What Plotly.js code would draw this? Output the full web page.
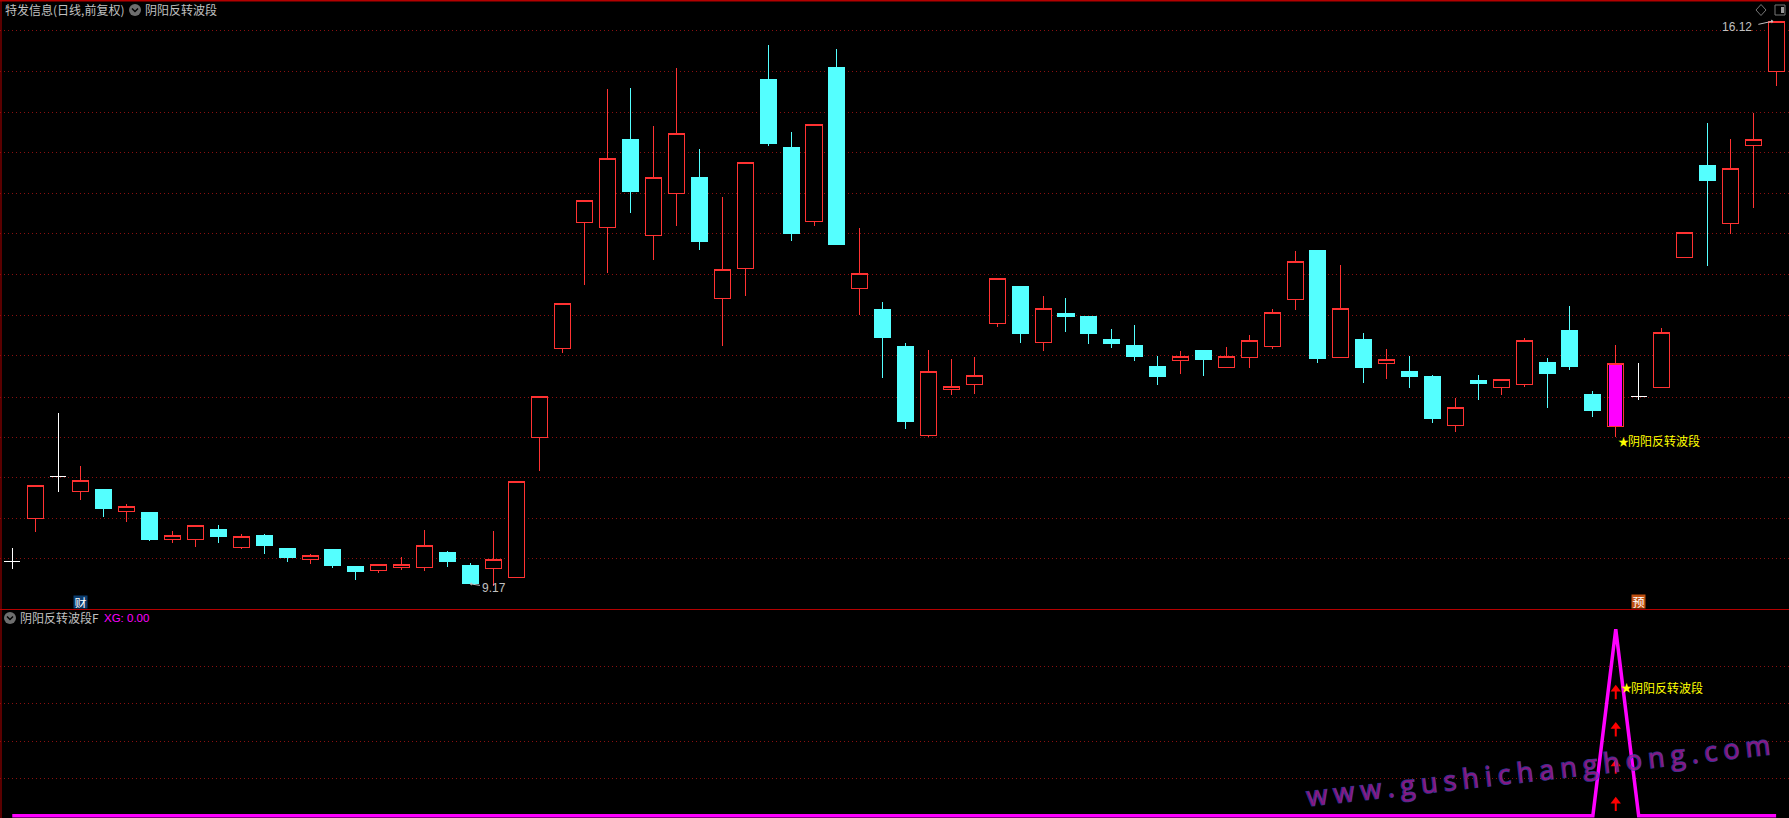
<!DOCTYPE html>
<html><head><meta charset="utf-8">
<script src="https://cdn.plot.ly/plotly-3.0.1.min.js"></script>
<style>html,body{margin:0;padding:0;background:#000;overflow:hidden}#c{width:1789px;height:818px}
.boxlayer path{shape-rendering:crispEdges}.barlayer path{shape-rendering:crispEdges}</style>
</head><body><div id="c"></div>
<script>
// Daily prices, one entry per trading day
const opens=[9.43,9.97,10.49,10.30,10.33,10.06,10.04,9.71,9.71,9.83,9.61,9.76,9.60,9.46,9.59,9.37,9.33,9.36,9.36,9.55,9.39,9.35,9.24,10.97,12.07,13.63,13.57,14.65,13.47,13.99,14.19,12.69,13.06,15.40,14.55,13.64,15.55,12.81,12.55,12.10,10.99,11.56,11.62,12.38,12.84,12.14,12.50,12.46,12.18,12.11,11.85,11.92,12.05,11.83,11.96,12.09,12.67,13.28,11.96,12.18,11.89,11.78,11.72,11.12,11.68,11.59,11.63,11.90,12.29,11.50,11.10,11.48,11.59,13.20,14.33,13.61,14.58,15.50];
const highs=[9.60,10.38,11.27,10.62,10.33,10.15,10.04,9.81,9.88,9.89,9.78,9.78,9.60,9.53,9.59,9.37,9.40,9.49,9.83,9.56,9.42,9.81,10.42,11.48,12.63,13.90,15.28,15.29,14.82,15.54,14.54,13.94,14.37,15.82,14.75,14.84,15.77,13.56,12.65,12.14,12.05,11.94,11.97,12.93,12.84,12.72,12.70,12.46,12.31,12.36,11.98,12.04,12.05,12.09,12.24,12.56,13.28,13.28,13.10,12.26,12.06,11.98,11.74,11.46,11.74,11.69,12.20,11.95,12.60,11.54,12.11,11.89,12.32,13.51,14.86,14.66,14.98,16.12];
const lows=[9.34,9.80,10.30,10.20,9.99,9.92,9.69,9.67,9.61,9.66,9.59,9.53,9.43,9.40,9.36,9.21,9.29,9.33,9.32,9.37,9.17,9.13,9.24,10.56,12.01,12.86,13.00,13.74,13.16,13.59,13.29,12.10,12.72,14.58,13.40,13.58,13.36,12.48,11.71,11.07,10.97,11.49,11.51,12.34,12.14,12.04,12.27,12.13,12.08,11.92,11.62,11.76,11.73,11.83,11.83,12.07,12.55,11.89,11.96,11.64,11.69,11.58,11.15,11.04,11.43,11.50,11.59,11.33,11.80,11.22,10.97,11.43,11.59,13.20,13.09,13.49,13.81,15.32];
const closes=[9.43,10.38,10.49,10.44,10.09,10.11,9.71,9.76,9.88,9.75,9.75,9.64,9.48,9.51,9.39,9.31,9.40,9.40,9.64,9.44,9.17,9.46,10.42,11.48,12.63,13.90,14.42,14.01,14.18,14.73,13.39,13.05,14.37,14.60,13.49,14.84,13.36,13.00,12.20,11.17,11.79,11.60,11.74,12.93,12.25,12.56,12.46,12.26,12.13,11.97,11.72,11.97,11.93,11.97,12.17,12.51,13.15,11.95,12.57,11.84,11.94,11.73,11.21,11.34,11.64,11.69,12.17,11.76,11.85,11.30,11.88,11.48,12.27,13.51,14.15,14.29,14.65,16.11];
const xgValues=[0,0,0,0,0,0,0,0,0,0,0,0,0,0,0,0,0,0,0,0,0,0,0,0,0,0,0,0,0,0,0,0,0,0,0,0,0,0,0,0,0,0,0,0,0,0,0,0,0,0,0,0,0,0,0,0,0,0,0,0,0,0,0,0,0,0,0,0,0,0,1,0,0,0,0,0,0,0];
const whiteDays=[0,2,71];
const signalDay=70;
const mainGridLevels=[16.00,15.50,14.99,14.49,13.99,13.49,12.98,12.48,11.98,11.47,10.97,10.47,9.97,9.47];
const xgGridLevels=[0.8,0.6,0.4,0.2];
const arrowTips=[0.69,0.49,0.29,0.09];
const arrowTails=[0.625,0.425,0.225,0.025];
const lowLabel={day:20,value:9.17,text:'9.17'};
const highLabel={day:77,value:16.12,text:'16.12'};
const titleMain='特发信息(日线,前复权)';
const titleFormula='阴阳反转波段';
const titleSub='阴阳反转波段F';
const xgReadout='XG: 0.00';
const signalStar='★';
const signalText='阴阳反转波段';
const watermark='www.gushichanghong.com';

const W=1789,H=818,px=x=>x/W,py=y=>1-y/H;
const days=opens.map((_,i)=>i);
const RED='#ff3232',CYAN='#54ffff',MAG='#ff00ff',GRID='#8a1010',FRAME='#b40000',TXT='#c0c0c0',YEL='#ffff00';
const special=new Set([...whiteDays,signalDay]);
const mainIdx=days.filter(i=>!special.has(i));
const pick=(a,idx)=>idx.map(i=>a[i]);
const candle=(idx,inc,dec)=>({type:'candlestick',x:idx,open:pick(opens,idx),high:pick(highs,idx),low:pick(lows,idx),close:pick(closes,idx),
  xaxis:'x',yaxis:'y',increasing:inc,decreasing:dec,whiskerwidth:0,hoverinfo:'skip',showlegend:false});
const stemX=[],stemY=[];
arrowTips.forEach((t,i)=>{stemX.push(signalDay,signalDay,null);stemY.push(t-0.02,arrowTails[i],null);});
const traces=[
 {type:'bar',x:[signalDay],base:[opens[signalDay]],y:[closes[signalDay]-opens[signalDay]],width:0.56,marker:{color:MAG,line:{width:0}},xaxis:'x',yaxis:'y',hoverinfo:'skip',showlegend:false},
 candle(mainIdx,{line:{color:RED,width:1},fillcolor:'#000'},{line:{color:CYAN,width:1},fillcolor:CYAN}),
 ...whiteDays.map(d=>candle([d],{line:{color:'#fff',width:1},fillcolor:'#fff'},{line:{color:'#fff',width:1},fillcolor:'#fff'})),
 candle([signalDay],{line:{color:RED,width:1},fillcolor:'rgba(0,0,0,0)'},{line:{color:RED,width:1},fillcolor:'rgba(0,0,0,0)'}),
 {type:'scatter',mode:'lines',x:days,y:xgValues,xaxis:'x',yaxis:'y2',line:{color:MAG,width:3.5},hoverinfo:'skip',showlegend:false},
 {type:'scatter',mode:'lines',x:stemX,y:stemY,xaxis:'x',yaxis:'y2',line:{color:'#ff0000',width:2},connectgaps:false,hoverinfo:'skip',showlegend:false},
 {type:'scatter',mode:'markers',x:arrowTips.map(()=>signalDay),y:arrowTips.map(t=>t-0.012),xaxis:'x',yaxis:'y2',marker:{symbol:'triangle-up',size:9,color:'#ff0000',line:{width:0}},hoverinfo:'skip',showlegend:false}
];
const label=(x,y,text,color,size,extra)=>Object.assign({xref:'paper',yref:'paper',x:px(x),y:py(y),text,showarrow:false,xanchor:'left',yanchor:'middle',
  font:{family:'"Noto Sans CJK SC","Noto Sans",sans-serif',size:size||12,color},borderpad:0,borderwidth:0},extra||{});
const latin=(size,color)=>({font:{family:'"Liberation Sans",sans-serif',size,color}});
const annotations=[
 label(5,9.5,titleMain,TXT),
 label(145,9.5,titleFormula,TXT),
 label(20,617.5,titleSub,TXT),
 label(104,617.5,xgReadout,MAG,12,latin(11.5,MAG)),
 label(1618,441,signalStar,YEL,11),
 label(1627.5,441,signalText,YEL),
 label(1621,687,signalStar,YEL,11),
 label(1630.5,687,signalText,YEL),
 label(1722,27,highLabel.text,TXT,12,latin(12,TXT)),
 label(482,587.5,lowLabel.text,TXT,12,latin(12,TXT)),
 {xref:'x',yref:'y',x:highLabel.day-0.12,y:highLabel.value,text:' ',showarrow:true,ax:-18,ay:4,arrowhead:1,arrowsize:0.7,arrowwidth:1,arrowcolor:TXT},
 {xref:'x',yref:'y',x:lowLabel.day-0.02,y:lowLabel.value-0.01,text:' ',showarrow:true,ax:13,ay:2,arrowhead:1,arrowsize:0.6,arrowwidth:1,arrowcolor:TXT},
 {xref:'x',yref:'paper',x:3,y:py(601.5),text:'财',showarrow:false,xanchor:'center',yanchor:'middle',width:13,height:12,bgcolor:'#0a3c6e',borderpad:0,font:{family:'"Noto Sans CJK SC"',size:12,color:'#fff'}},
 {xref:'x',yref:'paper',x:71,y:py(601.5),text:'预',showarrow:false,xanchor:'center',yanchor:'middle',width:13,height:13,bgcolor:'#c05010',borderpad:0,font:{family:'"Noto Sans CJK SC"',size:12,color:'#fff'}},
 {xref:'paper',yref:'paper',x:px(1541.5),y:py(769),xanchor:'center',yanchor:'middle',textangle:-6.4,opacity:0.85,showarrow:false,
  text:'<span style="letter-spacing:6.1px;stroke:#3c3ca8;stroke-width:1.6px;paint-order:stroke">'+watermark+'</span>',
  font:{family:'"Open Sans",sans-serif',size:27,color:'#a01c98'}}
];
const r=(type,x0,y0,x1,y1,o)=>Object.assign({type,xref:'paper',yref:'paper',x0:px(x0),x1:px(x1),y0:py(y0),y1:py(y1),line:{width:0}},o||{});
const chevron=(cx,cy)=>({type:'path',xref:'paper',yref:'paper',path:`M${px(cx-3)},${py(cy-1.5)} L${px(cx)},${py(cy+1.5)} L${px(cx+3)},${py(cy-1.5)}`,line:{color:'#000',width:1.5}});
const shapes=[
 r('line',0,0.5,W,0.5,{line:{color:FRAME,width:2}}),
 r('line',1,0,1,H,{line:{color:FRAME,width:1}}),
 r('line',0,609.5,W,609.5,{line:{color:FRAME,width:1}}),
 r('circle',129,4,141,16,{fillcolor:'#6e6e6e'}),chevron(135,10),
 r('circle',4,612,16,624,{fillcolor:'#6e6e6e'}),chevron(10,618),
 {type:'path',xref:'paper',yref:'paper',path:`M${px(1761)},${py(4.5)} L${px(1766)},${py(10)} L${px(1761)},${py(15.5)} L${px(1756)},${py(10)} Z`,line:{color:'#777',width:1}},
 r('rect',1775,5,1785,15,{line:{color:'#777',width:1}}),
 r('rect',1781,7,1784,13,{fillcolor:'#999'})
];
const P0=9.17,K=0.012367,price=y=>P0+(583-y)*K;
const layout={width:W,height:H,margin:{l:0,r:0,t:0,b:0,pad:0},paper_bgcolor:'#000',plot_bgcolor:'#000',showlegend:false,
 boxmode:'overlay',boxgap:0,boxgroupgap:0.3,dragmode:false,hovermode:false,barmode:'overlay',
 xaxis:{range:[-0.535,77.5625],visible:false,rangeslider:{visible:false},fixedrange:true},
 yaxis:{domain:[1-609/H,1],range:[price(609),price(0)],tickmode:'array',tickvals:mainGridLevels,ticktext:mainGridLevels.map(()=>''),showgrid:true,gridcolor:GRID,gridwidth:1,griddash:'1px,3px',zeroline:false,showline:false,ticks:'',showticklabels:false,fixedrange:true},
 yaxis2:{domain:[0,208/H],range:[-2.3/186.4,205.7/186.4],tickmode:'array',tickvals:xgGridLevels,ticktext:xgGridLevels.map(()=>''),showgrid:true,gridcolor:GRID,gridwidth:1,griddash:'1px,3px',zeroline:false,showline:false,ticks:'',showticklabels:false,fixedrange:true},
 annotations,shapes
};
Plotly.newPlot('c',traces,layout,{displayModeBar:false,staticPlot:true});
</script></body></html>
